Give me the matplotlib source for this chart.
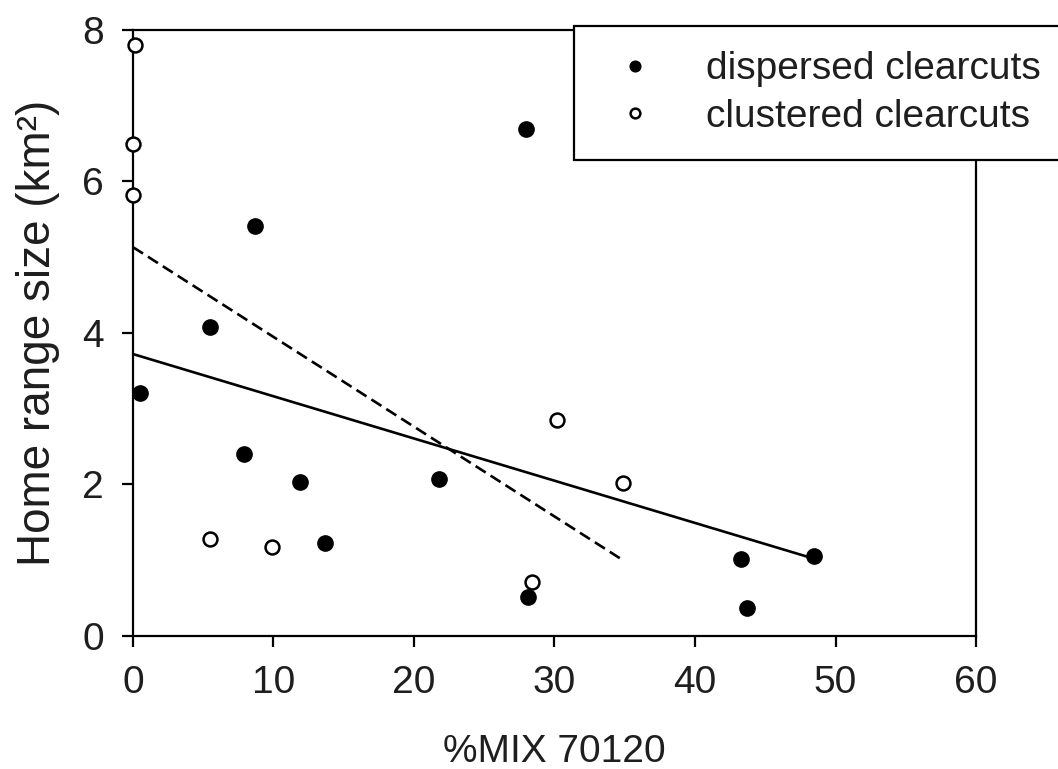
import numpy as np
import matplotlib
matplotlib.use("Agg")
import matplotlib.pyplot as plt

# data
disp_x = np.array([0.5, 5.5, 8.7, 7.9, 11.9, 13.7, 21.8, 28.0, 28.1, 43.3, 43.7, 48.5])
disp_y = np.array([3.21, 4.08, 5.41, 2.40, 2.03, 1.23, 2.07, 6.69, 0.51, 1.02, 0.37, 1.06])
clus_x = np.array([0.15, 0.0, 0.0, 5.5, 9.9, 28.4, 30.2, 34.9])
clus_y = np.array([7.80, 6.49, 5.82, 1.28, 1.17, 0.71, 2.85, 2.02])

x_ticks = [0, 10, 20, 30, 40, 50, 60]
y_ticks = [0, 2, 4, 6, 8]

font = "Liberation Sans"
txt_col = "#1e1e1e"
fs = 28

fig = plt.figure(figsize=(10.58, 7.69), dpi=100)
ax = fig.add_axes([0.1257, 0.173, 0.7968, 0.788])

ax.plot(disp_x, disp_y, "o", color="black", ms=11, clip_on=False, zorder=3,
        label="dispersed clearcuts")
ax.plot(clus_x, clus_y, "o", mfc="white", mec="black", mew=1.8, ms=10, clip_on=False,
        zorder=3, label="clustered clearcuts")

# least squares lines over each group's x range
b1, a1 = np.polyfit(disp_x, disp_y, 1)
xs = np.array([0.0, disp_x.max()])
ax.plot(xs, a1 + b1 * xs, color="black", lw=1.9, zorder=2)
b2, a2 = np.polyfit(clus_x, clus_y, 1)
xs = np.array([0.0, clus_x.max()])
ax.plot(xs, a2 + b2 * xs, color="black", lw=1.9, ls=(0, (4.5, 2.2)), zorder=2)

ax.set_xlim(0, 60)
ax.set_ylim(0, 8)
ax.set_xticks(x_ticks)
ax.set_yticks(y_ticks)
for s in ax.spines.values():
    s.set_linewidth(1.6)
ax.tick_params(direction="out", length=8, width=1.6, pad=13, labelsize=fs,
               labelcolor=txt_col)
for lab in ax.get_xticklabels() + ax.get_yticklabels():
    lab.set_fontfamily(font)

ax.set_xlabel("%MIX 70120", fontsize=fs, family=font, color=txt_col, labelpad=24)
ax.set_ylabel("Home range size (km²)", fontsize=33, family=font,
              color=txt_col, labelpad=16)

leg = ax.legend(loc="upper left", bbox_to_anchor=(0.523, 0.79, 0.59, 0.2166),
                mode="expand", borderaxespad=0, fancybox=False, framealpha=1,
                edgecolor="black", markerscale=0.7, handlelength=1.82,
                handletextpad=0.93, borderpad=0.65, labelspacing=0.3,
                prop={"family": font, "size": fs})
leg.get_frame().set_linewidth(1.6)
for t in leg.get_texts():
    t.set_color(txt_col)

fig.savefig("out.png", dpi=100)
